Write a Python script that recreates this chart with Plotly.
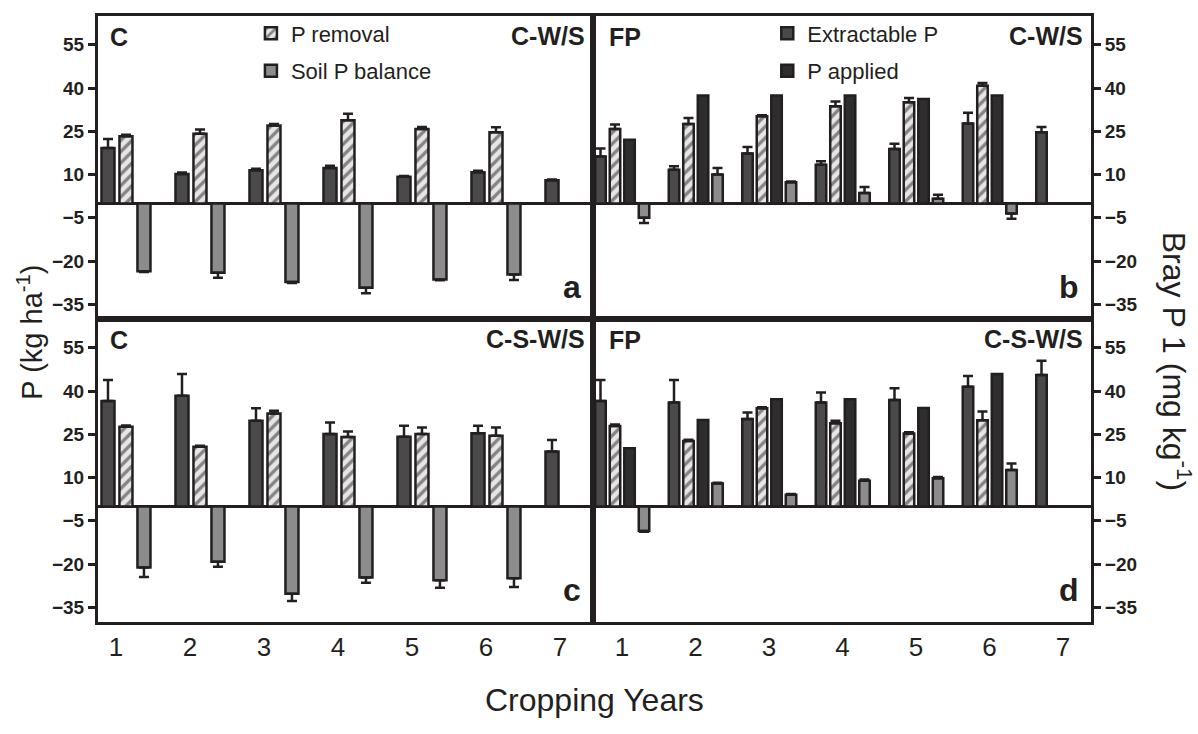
import plotly.graph_objects as go
from plotly.subplots import make_subplots

# ---------------- data ----------------
years = [1, 2, 3, 4, 5, 6, 7]
year_labels = ["1", "2", "3", "4", "5", "6", "7"]
y_ticks = [-35, -20, -5, 10, 25, 40, 55]

# panel a : C, C-W/S
a_extract = [19.2, 10.2, 11.5, 12.3, 9.2, 10.8, 8.0]
a_extract_err = [3.1, 0.5, 0.5, 0.8, 0.3, 0.5, 0.3]
a_removal = [23.3, 24.2, 27.0, 28.8, 25.8, 24.7]
a_removal_err = [0.5, 1.4, 0.5, 2.3, 0.7, 1.7]
a_balance = [-23.5, -24.1, -27.3, -29.3, -26.4, -24.7]
a_balance_err = [0.3, 1.7, 0.3, 1.9, 0.3, 1.9]

# panel b : FP, C-W/S
b_extract = [16.3, 11.7, 17.3, 13.4, 18.9, 27.7, 24.7]
b_extract_err = [2.7, 1.2, 2.3, 1.2, 1.8, 3.7, 1.8]
b_removal = [25.8, 27.5, 30.2, 33.7, 35.1, 40.8]
b_removal_err = [1.6, 2.1, 0.4, 1.6, 1.5, 1.0]
b_applied = [22.1, 37.4, 37.4, 37.4, 36.2, 37.4]
b_balance = [-5.0, 10.0, 7.3, 3.6, 1.6, -3.5]
b_balance_err = [1.8, 2.3, 0.3, 2.1, 1.4, 1.8]

# panel c : C, C-S-W/S
c_extract = [36.6, 38.4, 29.7, 25.1, 24.2, 25.4, 19.0]
c_extract_err = [7.2, 7.5, 4.3, 4.0, 3.8, 2.6, 4.0]
c_removal = [27.6, 20.7, 32.2, 24.1, 25.1, 24.5]
c_removal_err = [0.5, 0.3, 1.0, 1.9, 2.3, 2.9]
c_balance = [-21.2, -19.2, -30.3, -24.7, -25.6, -24.9]
c_balance_err = [3.3, 1.7, 2.5, 1.8, 2.6, 3.1]

# panel d : FP, C-S-W/S
d_extract = [36.6, 36.0, 30.3, 36.0, 36.9, 41.5, 45.6]
d_extract_err = [7.2, 7.8, 2.3, 3.5, 4.1, 3.7, 4.9]
d_removal = [27.9, 22.7, 34.0, 28.8, 25.3, 29.9]
d_removal_err = [0.5, 0.4, 0.4, 0.9, 0.4, 3.0]
d_applied = [20.2, 30.0, 37.2, 37.2, 34.1, 45.9]
d_balance = [-8.5, 7.9, 4.0, 8.9, 9.8, 12.6]
d_balance_err = [0.3, 0.3, 0.3, 0.4, 0.4, 2.3]

# ---------------- style ----------------
INK = "#231f20"
FONT = "Liberation Sans, Arial, Helvetica, sans-serif"
C_EXTRACT = "#4a4a4a"
C_REMOVAL = "#e6e6e6"
C_APPLIED = "#2e2e2e"
C_BALANCE = "#8c8c8c"

# bar placement (axis units) for control panels (3 bars) and FP panels (4 bars)
W3 = 0.176
OFF3 = {"extract": -0.196, "removal": 0.047, "balance": 0.290}
W4 = 0.143
OFF4 = {"extract": -0.364, "removal": -0.167, "applied": 0.031, "balance": 0.228}

fig = make_subplots(rows=2, cols=2, horizontal_spacing=0, vertical_spacing=0)


def add_bar(y, err, row, col, offset, width, color, name, pattern=None,
            legend=None, showlegend=False):
    x = years[:len(y)]
    kw = dict(
        x=x, y=y, name=name, offset=offset, width=width,
        marker=dict(color=color, line=dict(color=INK, width=2.5)),
        showlegend=showlegend,
    )
    if pattern:
        kw["marker"]["pattern"] = dict(shape="/", fgcolor=INK, size=8,
                                       solidity=0.42, fillmode="overlay")
    if err is not None:
        plus = [e if v >= 0 else 0 for v, e in zip(y, err)]
        minus = [e if v < 0 else 0 for v, e in zip(y, err)]
        kw["error_y"] = dict(type="data", symmetric=False, array=plus,
                             arrayminus=minus, color=INK, thickness=2.5, width=5)
    if legend:
        kw["legend"] = legend
        kw["legendgroup"] = name
    fig.add_trace(go.Bar(**kw), row=row, col=col)


# panel a
add_bar(a_extract, a_extract_err, 1, 1, OFF3["extract"], W3, C_EXTRACT, "Extractable P")
add_bar(a_removal, a_removal_err, 1, 1, OFF3["removal"], W3, C_REMOVAL, "P removal",
        pattern=True, legend="legend", showlegend=True)
add_bar(a_balance, a_balance_err, 1, 1, OFF3["balance"], W3, C_BALANCE, "Soil P balance",
        legend="legend", showlegend=True)
# panel b
add_bar(b_extract, b_extract_err, 1, 2, OFF4["extract"], W4, C_EXTRACT, "Extractable P",
        legend="legend2", showlegend=True)
add_bar(b_removal, b_removal_err, 1, 2, OFF4["removal"], W4, C_REMOVAL, "P removal", pattern=True)
add_bar(b_applied, None, 1, 2, OFF4["applied"], W4, C_APPLIED, "P applied",
        legend="legend2", showlegend=True)
add_bar(b_balance, b_balance_err, 1, 2, OFF4["balance"], W4, C_BALANCE, "Soil P balance")
# panel c
add_bar(c_extract, c_extract_err, 2, 1, OFF3["extract"], W3, C_EXTRACT, "Extractable P")
add_bar(c_removal, c_removal_err, 2, 1, OFF3["removal"], W3, C_REMOVAL, "P removal", pattern=True)
add_bar(c_balance, c_balance_err, 2, 1, OFF3["balance"], W3, C_BALANCE, "Soil P balance")
# panel d
add_bar(d_extract, d_extract_err, 2, 2, OFF4["extract"], W4, C_EXTRACT, "Extractable P")
add_bar(d_removal, d_removal_err, 2, 2, OFF4["removal"], W4, C_REMOVAL, "P removal", pattern=True)
add_bar(d_applied, None, 2, 2, OFF4["applied"], W4, C_APPLIED, "P applied")
add_bar(d_balance, d_balance_err, 2, 2, OFF4["balance"], W4, C_BALANCE, "Soil P balance")

XSPLIT = 495 / 993
x_ranges = {1: [0.757, 7.446], 2: [0.6054, 7.381]}
for r in (1, 2):
    for c in (1, 2):
        fig.update_xaxes(
            row=r, col=c, range=x_ranges[c], domain=[0, XSPLIT] if c == 1 else [XSPLIT, 1],
            tickvals=years, ticktext=year_labels, showticklabels=(r == 2), ticks="",
            showline=True, mirror=True, linecolor=INK, linewidth=3, showgrid=False,
            zeroline=False, tickfont=dict(size=26, color=INK, family=FONT),
        )
        fig.update_yaxes(
            row=r, col=c, range=[-40.1, 65], domain=[0.5, 1] if r == 1 else [0, 0.5],
            tickvals=y_ticks, side="left" if c == 1 else "right",
            ticks="outside", ticklen=7, tickwidth=3, tickcolor=INK,
            showline=True, mirror=True, linecolor=INK, linewidth=3, showgrid=False,
            zeroline=True, zerolinecolor=INK, zerolinewidth=3,
            tickfont=dict(size=19, color=INK, family=FONT, weight="bold"),
        )

# corner labels
corner = [
    (1, 1, "C", "C-W/S", "a"),
    (1, 2, "FP", "C-W/S", "b"),
    (2, 1, "C", "C-S-W/S", "c"),
    (2, 2, "FP", "C-S-W/S", "d"),
]
for r, c, tl, tr, letter in corner:
    idx = (r - 1) * 2 + c
    xr = "x domain" if idx == 1 else f"x{idx} domain"
    yr = "y domain" if idx == 1 else f"y{idx} domain"
    fig.add_annotation(xref=xr, yref=yr, x=0.02 if c == 1 else 0.028, y=0.93, text=tl,
                       showarrow=False, xanchor="left", yanchor="middle",
                       font=dict(size=25, color=INK, family=FONT, weight="bold"))
    fig.add_annotation(xref=xr, yref=yr, x=0.988, y=0.935, text=tr,
                       showarrow=False, xanchor="right", yanchor="middle",
                       font=dict(size=25, color=INK, family=FONT, weight="bold"))
    fig.add_annotation(xref=xr, yref=yr, x=0.98, y=0.105, text=letter,
                       showarrow=False, xanchor="right", yanchor="middle",
                       font=dict(size=32, color=INK, family=FONT, weight="bold"))

# axis titles
fig.add_annotation(xref="paper", yref="paper", x=-0.0685, y=0.479, textangle=-90,
                   text="P (kg ha<sup>-1</sup>)", showarrow=False,
                   xanchor="center", yanchor="middle",
                   font=dict(size=29, color=INK, family=FONT))
fig.add_annotation(xref="paper", yref="paper", x=1.0866, y=0.4295, textangle=90,
                   text="Bray P 1 (mg kg<sup>-1</sup>)", showarrow=False,
                   xanchor="center", yanchor="middle",
                   font=dict(size=32, color=INK, family=FONT))
fig.add_annotation(xref="paper", yref="paper", x=0.5005, y=-0.128,
                   text="Cropping Years", showarrow=False,
                   xanchor="center", yanchor="middle",
                   font=dict(size=32, color=INK, family=FONT))

fig.update_layout(
    width=1198, height=734,
    margin=dict(l=98, r=107, t=12, b=112),
    barmode="overlay",
    paper_bgcolor="white", plot_bgcolor="white",
    font=dict(family=FONT, color=INK),
    legend=dict(x=0.154, y=1.006, xanchor="left", yanchor="top",
                bgcolor="rgba(0,0,0,0)", font=dict(size=22, color=INK, family=FONT),
                tracegroupgap=6),
    legend2=dict(x=0.674, y=1.006, xanchor="left", yanchor="top",
                 bgcolor="rgba(0,0,0,0)", font=dict(size=22, color=INK, family=FONT),
                 tracegroupgap=6),
)

fig.write_html("out.html")
